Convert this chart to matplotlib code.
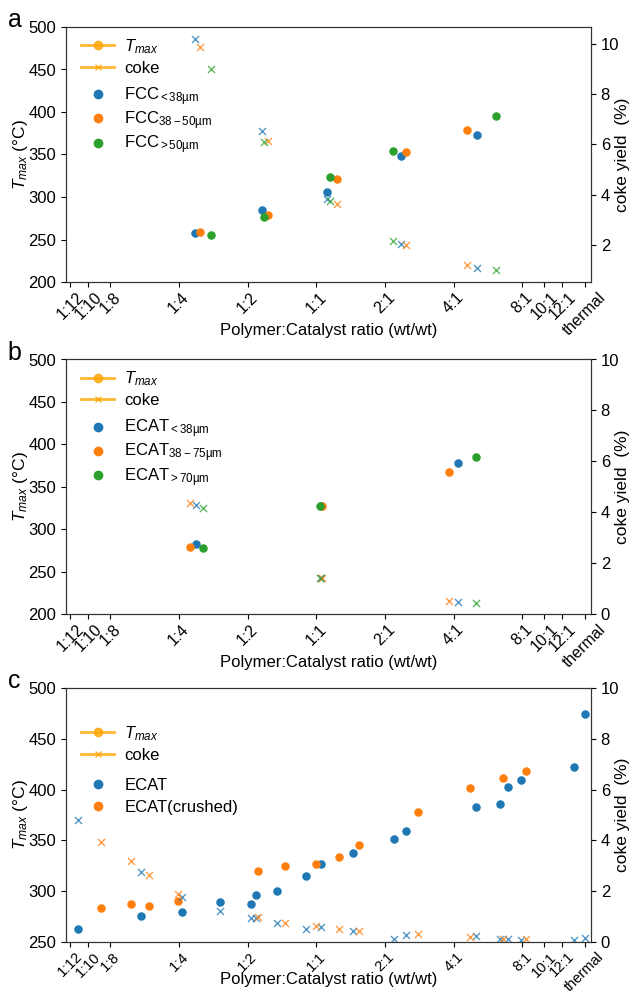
import numpy as np
import matplotlib
matplotlib.use("Agg")
import matplotlib.pyplot as plt
from matplotlib.lines import Line2D

plt.rcParams['font.family'] = ['Liberation Sans', 'DejaVu Sans']
plt.rcParams['mathtext.fontset'] = 'custom'
plt.rcParams['mathtext.rm'] = 'Liberation Sans'
plt.rcParams['mathtext.it'] = 'Liberation Sans:italic'
plt.rcParams['font.size'] = 12

# x ticks (polymer:catalyst ratio), "thermal" put at 15
tick_pos = [1/12, 1/10, 1/8, 1/4, 1/2, 1, 2, 4, 8, 10, 12, 15]
tick_lab = ['1:12', '1:10', '1:8', '1:4', '1:2', '1:1', '2:1', '4:1', '8:1', '10:1', '12:1', 'thermal']

# panel a : FCC fractions
fcc_lt38_x = [0.294, 0.578, 1.118, 2.352, 5.066]
fcc_lt38_t = [257.2, 284.6, 305.4, 348.0, 373.1]
fcc_lt38_c = [10.23, 6.54, 3.83, 2.03, 1.07]
fcc_38_50_x = [0.310, 0.613, 1.229, 2.474, 4.595]
fcc_38_50_t = [259.1, 278.3, 320.6, 353.5, 378.6]
fcc_38_50_c = [9.91, 6.15, 3.63, 1.98, 1.17]
fcc_gt50_x = [0.347, 0.592, 1.153, 2.169, 6.105]
fcc_gt50_t = [254.8, 276.8, 323.4, 353.9, 395.8]
fcc_gt50_c = [9.02, 6.11, 3.74, 2.16, 0.97]

# panel b : ECAT fractions
ecat_lt38_x = [0.297, 1.045, 4.165]
ecat_lt38_t = [282.1, 327.2, 378.5]
ecat_lt38_c = [4.30, 1.40, 0.48]
ecat_38_75_x = [0.281, 1.059, 3.80]
ecat_38_75_t = [279.4, 327.0, 367.1]
ecat_38_75_c = [4.38, 1.42, 0.51]
ecat_gt70_x = [0.318, 1.038, 5.015]
ecat_gt70_t = [277.8, 327.4, 384.8]
ecat_gt70_c = [4.15, 1.40, 0.42]

# panel c : ECAT vs crushed ECAT
ecat_x = [0.0906, 0.1706, 0.2570, 0.3766, 0.520, 0.5466, 0.6752, 0.904, 1.050,
          1.447, 2.184, 2.474, 5.007, 6.362, 6.898, 7.866, 13.54, 15.0]
ecat_t = [263.1, 275.9, 279.8, 289.0, 287.4, 296.2, 300.2, 315.2, 326.4,
          337.2, 351.0, 359.2, 383.1, 385.7, 402.8, 409.3, 422.1, 474.9]
ecat_c = [4.81, 2.74, 1.77, 1.24, 0.93, 0.96, 0.73, 0.52, 0.59,
          0.45, 0.13, 0.29, 0.25, 0.12, 0.12, 0.09, 0.07, 0.14]
crush_x = [0.1139, 0.1541, 0.1855, 0.2485, 0.5539, 0.7320, 1.0, 1.252, 1.533,
           2.784, 4.728, 6.603, 8.305]
crush_t = [283.8, 287.4, 285.4, 290.3, 319.8, 324.8, 326.7, 333.9, 345.4,
           377.5, 401.8, 411.3, 417.9]
crush_c = [3.95, 3.17, 2.62, 1.88, 1.00, 0.75, 0.62, 0.50, 0.45,
           0.30, 0.21, 0.12, 0.10]

colors = ['#1f77b4', '#ff7f0e', '#2ca02c']
W, H = 633, 994


def panel(rect, series, labels, ylim, y2lim, letter, leg1_y, leg2_y, leg2_sp, xlab_y, tick_fs=11.5):
    ax = fig.add_axes(rect)
    ax2 = ax.twinx()
    for (x, t, c), col in zip(series, colors):
        ax.scatter(x, t, s=26, color=col, zorder=3)
        ax2.scatter(x, c, s=26, marker='x', color=col, linewidths=1, alpha=0.75)
    ax.set_xscale('log', base=2)
    ax.set_xlim(0.08, 16)
    ax.set_xticks(tick_pos)
    ax.set_xticklabels(tick_lab, rotation=45, fontsize=tick_fs)
    ax.tick_params(axis='x', pad=2)
    ax.minorticks_off()
    ax.set_ylim(*ylim)
    if y2lim is not None:
        ax2.set_ylim(*y2lim)
    ax.set_xlabel('Polymer:Catalyst ratio (wt/wt)')
    ax.xaxis.set_label_coords(0.5, xlab_y)
    for a in (ax, ax2):
        for sp in a.spines.values():
            sp.set_color('#333333')
    mid = rect[1] + rect[3] / 2
    fig.text(21 / W, mid, r'$T_{max}$ (°C)', rotation=90, ha='center', va='center', fontsize=12.5)
    fig.text(623 / W, mid, 'coke yield  (%)', rotation=90, ha='center', va='center', fontsize=12.5)
    fig.text(0.012, rect[1] + rect[3] + 0.007, letter, fontsize=18, va='center')

    h1 = [Line2D([], [], color='orange', marker='o', lw=2, ms=6, alpha=0.8),
          Line2D([], [], color='orange', marker='x', lw=2, ms=5, alpha=0.8)]
    l1 = ax2.legend(h1, [r'$T_{max}$', 'coke'], loc='upper left', frameon=False,
                    bbox_to_anchor=(0.0, leg1_y), fontsize=12, handlelength=2.0,
                    labelspacing=0.3, handletextpad=0.6)
    ax2.add_artist(l1)
    h2 = [Line2D([], [], ls='none', marker='o', color=col, ms=6) for col in colors[:len(labels)]]
    ax2.legend(h2, labels, loc='upper left', frameon=False,
               bbox_to_anchor=(0.0, leg2_y), fontsize=12, handlelength=2.0,
               labelspacing=leg2_sp, handletextpad=0.6)
    return ax, ax2


fig = plt.figure(figsize=(6.33, 9.94), dpi=100)
left = 66 / W
width = (591 - 66) / W

panel([left, 1 - 282 / H, width, 255 / H],
      [(fcc_lt38_x, fcc_lt38_t, fcc_lt38_c),
       (fcc_38_50_x, fcc_38_50_t, fcc_38_50_c),
       (fcc_gt50_x, fcc_gt50_t, fcc_gt50_c)],
      [r'FCC$_{\mathregular{<38µm}}$', r'FCC$_{\mathregular{38-50µm}}$', r'FCC$_{\mathregular{>50µm}}$'],
      (200, 500), None, 'a', 1.02, 0.831, 0.1, -0.16)

panel([left, 1 - 614 / H, width, 254.5 / H],
      [(ecat_lt38_x, ecat_lt38_t, ecat_lt38_c),
       (ecat_38_75_x, ecat_38_75_t, ecat_38_75_c),
       (ecat_gt70_x, ecat_gt70_t, ecat_gt70_c)],
      [r'ECAT$_{\mathregular{<38µm}}$', r'ECAT$_{\mathregular{38-75µm}}$', r'ECAT$_{\mathregular{>70µm}}$'],
      (200, 500), (0, 10), 'b', 1.02, 0.831, 0.1, -0.16)

panel([left, 1 - 942 / H, width, 254 / H],
      [(ecat_x, ecat_t, ecat_c), (crush_x, crush_t, crush_c)],
      ['ECAT', 'ECAT(crushed)'],
      (250, 500), (0, 10), 'c', 0.918, 0.705, 0.43, -0.118, tick_fs=10.5)

fig.savefig('out.png', dpi=100)
